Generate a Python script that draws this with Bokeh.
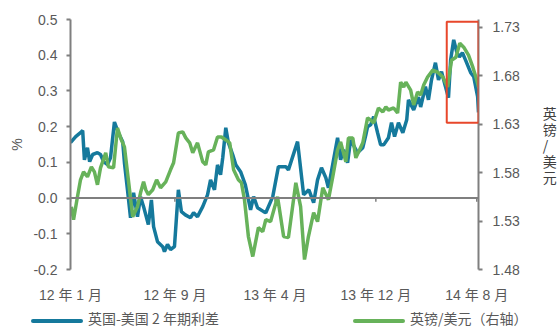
from bokeh.plotting import figure
from bokeh.layouts import column
from bokeh.models import (Range1d, LinearAxis, FixedTicker, Div,
                          BoxAnnotation, Span, NumeralTickFormatter)
from bokeh.embed import file_html
from bokeh.resources import INLINE

# UK-US 2y yield spread (%), days since 2012-01-02
spread_days = [0, 12, 23, 28, 32, 39, 44, 51, 62, 69, 76, 85, 92, 101, 110, 120, 124, 131,
               138, 145, 154, 161, 168, 179, 186, 191, 200, 212, 216, 223, 230, 239, 248,
               255, 264, 276, 283, 292, 304, 315, 322, 331, 338, 345, 350, 357, 363, 373,
               380, 391, 402, 414, 421, 430, 444, 449, 465, 478, 495, 501, 522, 536, 548,
               559, 568, 577, 587, 593, 614, 621, 628, 637, 644, 660, 672, 679, 683, 690,
               697, 706, 713, 720, 731, 738, 745, 754, 764, 773, 777, 789, 800, 805, 816,
               823, 830, 839, 846, 853, 862, 869, 874, 881, 888, 894, 901, 908, 920, 927,
               936, 938]
spread = [0.155, 0.172, 0.183, 0.189, 0.107, 0.141, 0.102, 0.122, 0.127, 0.122, 0.102,
          0.094, 0.113, 0.213, 0.183, 0.158, 0.099, 0.023, -0.055, 0.015, -0.052, 0.004,
          -0.024, -0.074, -0.005, -0.080, -0.122, -0.136, -0.150, -0.130, -0.144, -0.136,
          0.023, -0.038, -0.047, -0.055, -0.041, -0.052, -0.024, 0.009, 0.051, 0.023,
          0.093, 0.065, 0.113, 0.197, 0.155, 0.121, 0.093, 0.074, 0.037, -0.033, 0.004,
          -0.027, -0.038, -0.041, 0.004, 0.088, 0.088, 0.079, 0.158, 0.009, 0.023, -0.013,
          0.051, 0.085, 0.057, 0.029, 0.169, 0.107, 0.135, 0.099, 0.163, 0.127, 0.141,
          0.177, 0.200, 0.205, 0.228, 0.183, 0.149, 0.149, 0.169, 0.211, 0.172, 0.211,
          0.183, 0.219, 0.275, 0.247, 0.283, 0.255, 0.312, 0.275, 0.331, 0.379, 0.331,
          0.354, 0.312, 0.281, 0.387, 0.443, 0.409, 0.395, 0.407, 0.387, 0.351, 0.340,
          0.284, 0.240]

# GBP/USD (right axis), days since 2012-01-02
fx_days = [2, 7, 16, 23, 30, 39, 48, 55, 62, 69, 81, 87, 99, 108, 117, 124, 133, 143, 154,
           161, 168, 173, 179, 189, 198, 207, 219, 230, 237, 248, 258, 265, 274, 281, 292,
           304, 311, 317, 329, 338, 347, 357, 366, 375, 386, 393, 400, 409, 419, 432, 442,
           449, 460, 476, 490, 501, 518, 529, 538, 547, 559, 568, 580, 593, 603, 614, 621,
           633, 639, 649, 656, 672, 683, 690, 697, 708, 718, 725, 731, 743, 752, 759, 766,
           771, 782, 789, 798, 805, 812, 821, 833, 844, 856, 867, 876, 886, 895, 904, 915,
           925, 934, 938]
gbpusd = [1.5448, 1.5314, 1.5551, 1.5726, 1.5808, 1.5757, 1.5860, 1.5808, 1.5674, 1.5849,
          1.6004, 1.5860, 1.5849, 1.6261, 1.6137, 1.6065, 1.5726, 1.5345, 1.5448, 1.5592,
          1.5705, 1.5623, 1.5572, 1.5623, 1.5726, 1.5644, 1.5705, 1.5829, 1.5901, 1.6209,
          1.6220, 1.6158, 1.6107, 1.6004, 1.6107, 1.5911, 1.5880, 1.6014, 1.6035, 1.6168,
          1.6168, 1.6137, 1.6107, 1.5829, 1.5726, 1.5695, 1.5520, 1.5140, 1.4934, 1.5232,
          1.5191, 1.5314, 1.5294, 1.5551, 1.5140, 1.5129, 1.5695, 1.5448, 1.4903, 1.5140,
          1.5386, 1.5294, 1.5644, 1.5520, 1.5757, 1.6035, 1.6117, 1.5911, 1.6158, 1.6158,
          1.5952, 1.6107, 1.6364, 1.6343, 1.6312, 1.6467, 1.6426, 1.6477, 1.6446, 1.6467,
          1.6415, 1.6734, 1.6683, 1.6734, 1.6652, 1.6498, 1.6631, 1.6600, 1.6703, 1.6786,
          1.6858, 1.6837, 1.6786, 1.6683, 1.6960, 1.6991, 1.7135, 1.7094, 1.7012, 1.6888,
          1.6755, 1.6683]

tick_days = [0, 240, 470, 702, 934]
tick_labels = ["12 年 1 月", "12 年 9 月", "13 年 4 月", "13 年 12 月", "14 年 8 月"]
left_ticks = [-0.2, -0.1, 0.0, 0.1, 0.2, 0.3, 0.4, 0.5]
right_ticks = [1.48, 1.53, 1.58, 1.63, 1.68, 1.73]
series_names = ["英国-美国 2 年期利差", "英镑/美元（右轴）"]

BLUE = "#15799C"
GREEN = "#67B25A"
GRAY = "#7f7f7f"
TEXT = "#595959"
FONT = "Liberation Sans, Noto Sans CJK SC"

p = figure(width=559, height=305, output_backend="svg", toolbar_location=None,
           x_range=Range1d(0, 938), y_range=Range1d(-0.2, 0.5),
           min_border_left=70, min_border_right=81, min_border_top=19,
           min_border_bottom=36, outline_line_color=None)
p.grid.visible = False
p.background_fill_color = "white"
p.border_fill_color = "white"

# bottom category labels (no axis line; the zero line acts as the x axis)
xa = p.xaxis[0]
xa.ticker = FixedTicker(ticks=tick_days)
xa.major_label_overrides = {d: t for d, t in zip(tick_days, tick_labels)}
xa.axis_line_color = None
xa.major_tick_line_color = None
xa.minor_tick_line_color = None
xa.major_tick_in = 0
xa.major_tick_out = 0
xa.major_label_standoff = 17
xa.major_label_text_font = FONT
xa.major_label_text_font_size = "14px"
xa.major_label_text_color = TEXT

ya = p.yaxis[0]
ya.ticker = FixedTicker(ticks=left_ticks)
ya.formatter = NumeralTickFormatter(format="0.0")
ya.axis_line_color = GRAY
ya.axis_line_width = 2
ya.major_tick_line_color = GRAY
ya.major_tick_line_width = 2
ya.major_tick_in = 0
ya.major_tick_out = 4
ya.minor_tick_line_color = None
ya.major_label_standoff = 9
ya.major_label_text_font = FONT
ya.major_label_text_font_size = "14px"
ya.major_label_text_color = TEXT
ya.axis_label = "%"
ya.axis_label_standoff = 5
ya.axis_label_text_font = FONT
ya.axis_label_text_font_size = "14px"
ya.axis_label_text_font_style = "normal"
ya.axis_label_text_color = TEXT

p.extra_y_ranges = {"fx": Range1d(1.48, 1.738)}
ra = LinearAxis(y_range_name="fx", ticker=FixedTicker(ticks=right_ticks),
                formatter=NumeralTickFormatter(format="0.00"))
ra.axis_line_color = GRAY
ra.axis_line_width = 2
ra.major_tick_line_color = GRAY
ra.major_tick_line_width = 2
ra.major_tick_in = 0
ra.major_tick_out = 4
ra.minor_tick_line_color = None
ra.major_label_standoff = 10
ra.major_label_text_font = FONT
ra.major_label_text_font_size = "14px"
ra.major_label_text_color = TEXT
ra.axis_label = "英\n镑\n/\n美\n元"
ra.axis_label_orientation = "horizontal"
ra.axis_label_standoff = 20
ra.axis_label_text_font = "Noto Sans CJK SC"
ra.axis_label_text_font_size = "14px"
ra.axis_label_text_font_style = "normal"
ra.axis_label_text_color = "#404040"
ra.axis_label_text_line_height = 0.8
p.add_layout(ra, "right")

# zero line with small category ticks
p.add_layout(Span(location=0, dimension="width", line_color=GRAY, line_width=2))
p.segment(x0=tick_days, y0=[0] * len(tick_days), x1=tick_days,
          y1=[-0.01] * len(tick_days), line_color=GRAY, line_width=1.5)

p.line(spread_days, spread, line_color=BLUE, line_width=3.5)
p.line(fx_days, gbpusd, y_range_name="fx", line_color=GREEN, line_width=3.5)

# highlight box around the latest peak
p.add_layout(BoxAnnotation(left=865, right=938, top=0.494, bottom=0.211,
                           fill_alpha=0, line_color="#E8472B", line_alpha=1.0,
                           line_width=2))

# legend strip underneath the chart
def key(left, color, label):
    return (
        f'<div style="position:absolute;left:{left}px;top:14px;width:52px;'
        f'height:4px;background:{color};border-radius:2px;"></div>'
        f'<div style="position:absolute;left:{left + 57}px;top:2px;line-height:22px;'
        f'font-family:\'Noto Sans CJK SC\';font-size:14px;color:{TEXT};'
        f'white-space:nowrap;">{label}</div>'
    )

legend_div = Div(
    text=('<div style="position:relative;width:559px;height:22px;">'
          + key(31, BLUE, series_names[0]) + key(353, GREEN, series_names[1])
          + '</div>'),
    width=559, height=22, margin=(0, 0, 0, 0))

open("out.html", "w").write(file_html(column(p, legend_div, spacing=0), INLINE))
